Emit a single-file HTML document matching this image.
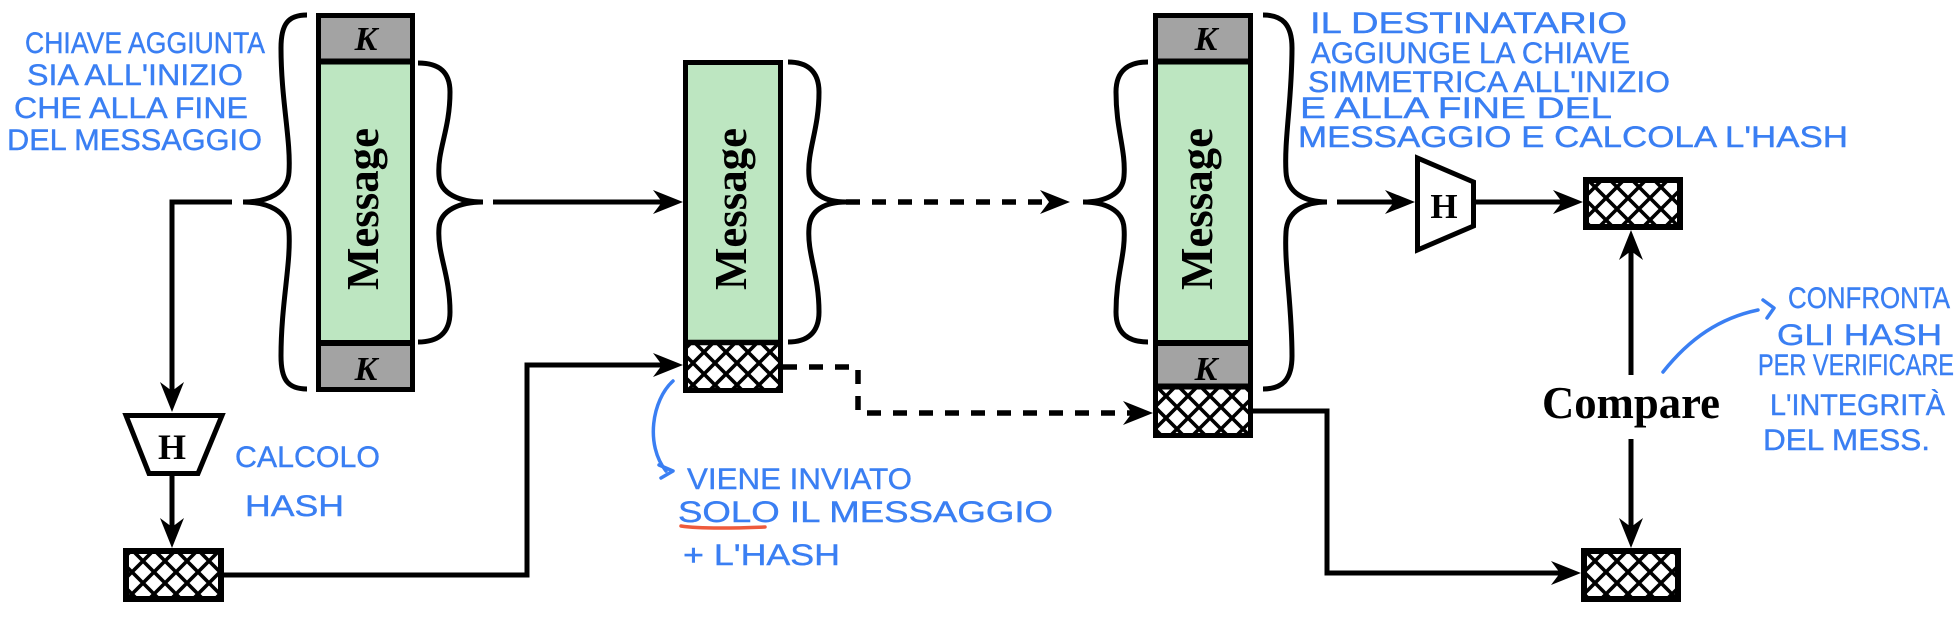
<!DOCTYPE html>
<html><head><meta charset="utf-8"><style>
html,body{margin:0;padding:0;background:#fff;width:1956px;height:618px;overflow:hidden}
svg{display:block}
</style></head><body>
<svg width="1956" height="618" viewBox="0 0 1956 618" xmlns="http://www.w3.org/2000/svg">
<defs>
<pattern id="hx" patternUnits="userSpaceOnUse" width="22" height="22">
<rect width="22" height="22" fill="#fff"/>
<path d="M0,0 L22,22 M22,0 L0,22 M11,-11 L33,11 M-11,11 L11,33 M-11,11 L11,-11 M11,33 L33,11" stroke="#000" stroke-width="3.6" fill="none"/>
</pattern>
</defs>
<rect width="1956" height="618" fill="#fff"/>

<!-- ===== Box 1 ===== -->
<rect x="318" y="15" width="95" height="47" fill="#a3a3a3"/>
<rect x="318" y="62" width="95" height="281" fill="#bde6c1"/>
<rect x="318" y="343" width="95" height="47" fill="#a3a3a3"/>
<line x1="316" y1="61.5" x2="415" y2="61.5" stroke="#000" stroke-width="6"/>
<line x1="316" y1="343" x2="415" y2="343" stroke="#000" stroke-width="6"/>
<rect x="318.5" y="15.5" width="94" height="374" fill="none" stroke="#000" stroke-width="5"/>
<text x="366" y="50" font-family="Liberation Serif, serif" font-weight="bold" font-style="italic" font-size="34" text-anchor="middle">K</text>
<text x="366" y="380" font-family="Liberation Serif, serif" font-weight="bold" font-style="italic" font-size="34" text-anchor="middle">K</text>
<text transform="translate(378,209) rotate(-90)" font-family="Liberation Serif, serif" font-weight="bold" font-size="46" text-anchor="middle" textLength="162" lengthAdjust="spacingAndGlyphs">Message</text>

<!-- ===== Box 2 ===== -->
<rect x="685" y="62" width="96" height="281" fill="#bde6c1"/>
<rect x="685" y="343" width="96" height="48" fill="url(#hx)"/>
<line x1="683" y1="342.5" x2="783" y2="342.5" stroke="#000" stroke-width="5.5"/>
<rect x="685.5" y="62.5" width="95" height="328" fill="none" stroke="#000" stroke-width="5"/>
<text transform="translate(746,209) rotate(-90)" font-family="Liberation Serif, serif" font-weight="bold" font-size="46" text-anchor="middle" textLength="162" lengthAdjust="spacingAndGlyphs">Message</text>

<!-- ===== Box 3 ===== -->
<rect x="1155" y="15" width="96" height="47" fill="#a3a3a3"/>
<rect x="1155" y="62" width="96" height="281" fill="#bde6c1"/>
<rect x="1155" y="343" width="96" height="43" fill="#a3a3a3"/>
<rect x="1155" y="386" width="96" height="50" fill="url(#hx)"/>
<line x1="1153" y1="61.5" x2="1253" y2="61.5" stroke="#000" stroke-width="6"/>
<line x1="1153" y1="343" x2="1253" y2="343" stroke="#000" stroke-width="6"/>
<line x1="1153" y1="386.5" x2="1253" y2="386.5" stroke="#000" stroke-width="6"/>
<rect x="1155.5" y="15.5" width="95" height="420" fill="none" stroke="#000" stroke-width="5"/>
<text x="1206" y="50" font-family="Liberation Serif, serif" font-weight="bold" font-style="italic" font-size="34" text-anchor="middle">K</text>
<text x="1206" y="380" font-family="Liberation Serif, serif" font-weight="bold" font-style="italic" font-size="34" text-anchor="middle">K</text>
<text transform="translate(1212,209) rotate(-90)" font-family="Liberation Serif, serif" font-weight="bold" font-size="46" text-anchor="middle" textLength="162" lengthAdjust="spacingAndGlyphs">Message</text>

<!-- ===== Hash boxes ===== -->
<rect x="126" y="551" width="95" height="48" fill="url(#hx)" stroke="#000" stroke-width="6"/>
<rect x="1586" y="180" width="94" height="47" fill="url(#hx)" stroke="#000" stroke-width="6"/>
<rect x="1584" y="551" width="94" height="48" fill="url(#hx)" stroke="#000" stroke-width="6"/>

<!-- ===== Braces ===== -->
<g fill="none" stroke="#000" stroke-width="5" stroke-linecap="butt">
<path d="M307,15 C288,15 281,24 281,48 C281,100 291,140 289,172 C288,193 268,202 243,202 C268,202 288,211 289,232 C291,264 281,304 281,356 C281,380 288,389 307,389"/>
<path d="M418,63 C437,63 450,70 450,92 C450,130 437,150 439,176 C440,194 460,202 483,202 C460,202 440,210 439,228 C437,254 450,274 450,312 C450,334 437,342 418,342"/>
<path d="M788,62 C806,62 819,70 819,92 C819,130 807,150 809,176 C810,194 825,202 846,202 C825,202 810,210 809,228 C807,254 819,274 819,312 C819,334 806,342 788,342"/>
<path d="M1148,62 C1129,62 1116,70 1116,92 C1116,130 1126,150 1124,176 C1123,194 1105,202 1083,202 C1105,202 1123,210 1124,228 C1126,254 1116,274 1116,312 C1116,334 1129,342 1148,342"/>
<path d="M1263,15 C1282,15 1292,24 1292,48 C1292,100 1284,140 1286,172 C1287,193 1305,202 1327,202 C1305,202 1287,211 1286,232 C1284,264 1292,304 1292,356 C1292,380 1282,389 1263,389"/>
</g>

<!-- ===== H trapezoids ===== -->
<polygon points="126,415.5 222,415.5 198,473.5 149,473.5" fill="#fff" stroke="#000" stroke-width="5" stroke-linejoin="miter"/>
<text x="172" y="459" font-family="Liberation Serif, serif" font-weight="bold" font-size="36" text-anchor="middle">H</text>
<polygon points="1417.5,158 1473.5,182 1473.5,226 1417.5,250" fill="#fff" stroke="#000" stroke-width="5" stroke-linejoin="miter"/>
<text x="1444" y="218" font-family="Liberation Serif, serif" font-weight="bold" font-size="35" text-anchor="middle">H</text>

<!-- ===== Connectors ===== -->
<g fill="none" stroke="#000" stroke-width="5">
<path d="M232,202 H172 V392"/>
<path d="M172,476 V530"/>
<path d="M493,202 H665"/>
<path d="M1337,202 H1395"/>
<path d="M1476,202 H1565"/>
<path d="M224,575 H527 V365 H665"/>
<path d="M1253,411 H1327 V573 H1562"/>
<path d="M1631,375 V250"/>
<path d="M1631,439 V530"/>
</g>
<g fill="none" stroke="#000" stroke-width="5.5" stroke-dasharray="14 12">
<path d="M846,202 H1050"/>
<path d="M783,367 H858 V413 H1132"/>
</g>

<!-- ===== Arrowheads ===== -->
<g fill="#000">
<path d="M172,412 L160,382 L172,391 L184,382 Z"/>
<path d="M172,548 L160,518 L172,527 L184,518 Z"/>
<path d="M683,202 L653,190 L662,202 L653,214 Z"/>
<path d="M1070,202 L1040,190 L1049,202 L1040,214 Z"/>
<path d="M1415,202 L1385,190 L1394,202 L1385,214 Z"/>
<path d="M1583,202 L1553,190 L1562,202 L1553,214 Z"/>
<path d="M683,365 L653,353 L662,365 L653,377 Z"/>
<path d="M1153,413 L1123,401 L1132,413 L1123,425 Z"/>
<path d="M1581,573 L1551,561 L1560,573 L1551,585 Z"/>
<path d="M1631,230 L1619,260 L1631,251 L1643,260 Z"/>
<path d="M1631,548 L1619,518 L1631,527 L1643,518 Z"/>
</g>

<!-- ===== Compare ===== -->
<text x="1631" y="418" font-family="Liberation Serif, serif" font-weight="bold" font-size="45" text-anchor="middle" textLength="178" lengthAdjust="spacingAndGlyphs">Compare</text>

<!-- ===== Handwritten notes ===== -->
<g font-family="Liberation Sans, sans-serif" font-size="30" fill="#3a7ff3" stroke="#3a7ff3" stroke-width="0.4">
<text x="25" y="53" textLength="240" lengthAdjust="spacingAndGlyphs">CHIAVE AGGIUNTA</text>
<text x="27" y="85" textLength="216" lengthAdjust="spacingAndGlyphs">SIA ALL'INIZIO</text>
<text x="14" y="118" textLength="234" lengthAdjust="spacingAndGlyphs">CHE ALLA FINE</text>
<text x="7" y="150" textLength="255" lengthAdjust="spacingAndGlyphs">DEL MESSAGGIO</text>

<text x="235" y="467" textLength="145" lengthAdjust="spacingAndGlyphs">CALCOLO</text>
<text x="245" y="516" textLength="99" lengthAdjust="spacingAndGlyphs">HASH</text>

<text x="687" y="489" textLength="225" lengthAdjust="spacingAndGlyphs">VIENE INVIATO</text>
<text x="678" y="522" textLength="375" lengthAdjust="spacingAndGlyphs">SOLO IL MESSAGGIO</text>
<text x="683" y="565" textLength="157" lengthAdjust="spacingAndGlyphs">+ L'HASH</text>

<text x="1310" y="33" textLength="317" lengthAdjust="spacingAndGlyphs">IL DESTINATARIO</text>
<text x="1311" y="63" textLength="319" lengthAdjust="spacingAndGlyphs">AGGIUNGE LA CHIAVE</text>
<text x="1308" y="92" textLength="362" lengthAdjust="spacingAndGlyphs">SIMMETRICA ALL'INIZIO</text>
<text x="1300" y="118" textLength="312" lengthAdjust="spacingAndGlyphs">E ALLA FINE DEL</text>
<text x="1298" y="147" textLength="550" lengthAdjust="spacingAndGlyphs">MESSAGGIO E CALCOLA L'HASH</text>

<text x="1788" y="308" textLength="162" lengthAdjust="spacingAndGlyphs">CONFRONTA</text>
<text x="1777" y="345" textLength="165" lengthAdjust="spacingAndGlyphs">GLI HASH</text>
<text x="1758" y="375" textLength="196" lengthAdjust="spacingAndGlyphs">PER VERIFICARE</text>
<text x="1770" y="415" textLength="175" lengthAdjust="spacingAndGlyphs">L'INTEGRITÀ</text>
<text x="1763" y="450" textLength="167" lengthAdjust="spacingAndGlyphs">DEL MESS.</text>
</g>

<!-- blue curved pointers -->
<g fill="none" stroke="#3a7ff3" stroke-width="3.5" stroke-linecap="round" stroke-linejoin="round">
<path d="M673,381 C652,400 645,445 666,471"/>
<path d="M659,465 L673,471 L661,478"/>
<path d="M1663,372 C1690,338 1720,318 1758,310"/>
<path d="M1763,300 L1774,308 L1767,318"/>
</g>
<!-- red underline -->
<path d="M681,526 C700,529 740,528 765,527" fill="none" stroke="#ee5a3c" stroke-width="3.5" stroke-linecap="round"/>
</svg>
</body></html>
